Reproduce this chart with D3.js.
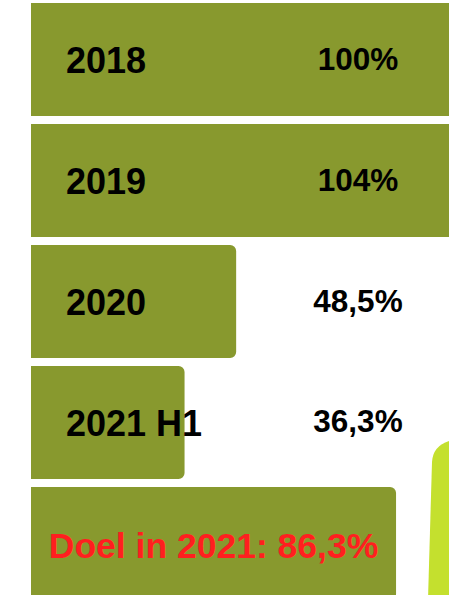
<!DOCTYPE html>
<html lang="nl">
<head>
<meta charset="UTF-8">
<title>Doel 2021</title>
<style>
  html, body { margin: 0; padding: 0; background: #fff; overflow: hidden; }
  svg { display: block; }
  text { font-family: "Liberation Sans", Arial, sans-serif; font-weight: bold; }
</style>
</head>
<body>
<svg class="chart"></svg>
<script src="https://d3js.org/d3.v7.min.js"></script>
<script>
// data
var years = ['2018', '2019', '2020', '2021 H1'];
var values = [100, 104, 48.5, 36.3];
var valueLabels = ['100%', '104%', '48,5%', '36,3%'];
var goalName = 'Doel in 2021';
var goalValue = 86.3;
var goalLabel = 'Doel in 2021: 86,3%';

var width = 449, height = 595;
var olive = '#88992e', lime = '#c4e02e';

var svg = d3.select('.chart')
    .attr('width', width)
    .attr('height', height);

var rows = years.map((y, i) => ({ name: y, value: values[i], label: valueLabels[i] }));
var allNames = years.concat([goalName]);

var x = d3.scaleLinear().domain([0, 100]).range([31, 454]);
var y = d3.scaleBand().domain(allNames).range([3, 600]).paddingInner(0.066).paddingOuter(0);

// bar with rounded right corners
function barPath(x0, x1, y0, h, r) {
    var p = d3.path();
    p.moveTo(x0, y0);
    p.lineTo(x1 - r, y0);
    p.arcTo(x1, y0, x1, y0 + r, r);
    p.lineTo(x1, y0 + h - r);
    p.arcTo(x1, y0 + h, x1 - r, y0 + h, r);
    p.lineTo(x0, y0 + h);
    p.closePath();
    return p.toString();
}

// decorative lime shape at bottom right
var deco = d3.path();
deco.moveTo(428, 600);
deco.lineTo(432, 462);
deco.quadraticCurveTo(433, 446, 449, 441);
deco.lineTo(460, 441);
deco.lineTo(460, 600);
deco.closePath();
svg.append('path').attr('d', deco.toString()).attr('fill', lime);

svg.selectAll('.bar')
    .data(rows)
    .enter()
    .append('path')
    .attr('class', 'bar')
    .attr('d', d => barPath(x(0), x(d.value), y(d.name), y.bandwidth(), 6))
    .attr('fill', olive);

svg.append('path')
    .attr('class', 'goal')
    .attr('d', barPath(x(0), x(goalValue), y(goalName), y.bandwidth(), 6))
    .attr('fill', olive);

svg.selectAll('.year')
    .data(rows)
    .enter()
    .append('text')
    .attr('class', 'year')
    .attr('x', 66)
    .attr('y', d => y(d.name) + y.bandwidth() / 2 + 1)
    .attr('dominant-baseline', 'central')
    .style('font-size', '36px')
    .attr('fill', '#000')
    .text(d => d.name);

svg.selectAll('.val')
    .data(rows)
    .enter()
    .append('text')
    .attr('class', 'val')
    .attr('x', 358)
    .attr('y', d => y(d.name) + y.bandwidth() / 2 - 1)
    .attr('text-anchor', 'middle')
    .attr('dominant-baseline', 'central')
    .style('font-size', '31.5px')
    .attr('fill', '#000')
    .text(d => d.label);

svg.append('text')
    .attr('x', (x(0) + x(goalValue)) / 2)
    .attr('y', y(goalName) + 59)
    .attr('text-anchor', 'middle')
    .attr('dominant-baseline', 'central')
    .style('font-size', '35.5px')
    .attr('fill', '#ff1f1f')
    .text(goalLabel);
</script>
</body>
</html>
